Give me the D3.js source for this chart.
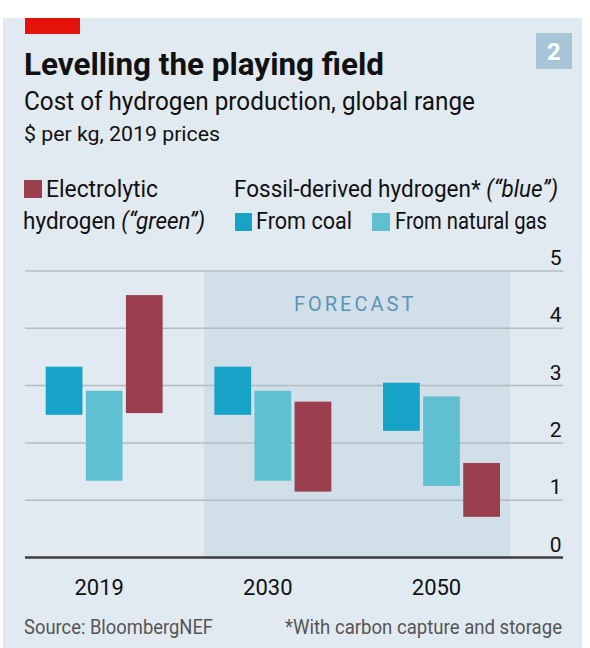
<!DOCTYPE html>
<html>
<head>
<meta charset="utf-8">
<script src="https://cdn.jsdelivr.net/npm/d3@7"></script>
<style>
  html, body { margin: 0; padding: 0; background: #fff; }
  svg { display: block; }
  text { font-family: Roboto, "Open Sans", sans-serif; fill: #111; }
</style>
</head>
<body>
<div id="chart"></div>
<script>
// cost ranges, $ per kg
const years = ["2019", "2030", "2050"];
const seriesKeys = ["coal", "gas", "green"];
const coalLow = [2.49, 2.49, 2.21];
const coalHigh = [3.33, 3.33, 3.05];
const gasLow = [1.34, 1.34, 1.25];
const gasHigh = [2.91, 2.91, 2.81];
const greenLow = [2.52, 1.15, 0.71];
const greenHigh = [4.58, 2.72, 1.65];
const yTicks = [0, 1, 2, 3, 4, 5];

const colors = { coal: "#17a2c7", gas: "#5fc0d1", green: "#9b3f4f" };

const width = 590, height = 648;

const svg = d3.select("#chart").append("svg")
    .attr("width", width)
    .attr("height", height);

// panel
svg.append("rect")
    .attr("x", 3).attr("y", 18)
    .attr("width", 579).attr("height", height - 18)
    .attr("fill", "#e2eaf1");

svg.append("rect")
    .attr("x", 25).attr("y", 18)
    .attr("width", 55).attr("height", 16)
    .attr("fill", "#e3120b");

// chart number box
svg.append("rect")
    .attr("x", 536).attr("y", 33)
    .attr("width", 36).attr("height", 36)
    .attr("fill", "#a8c5d8");
svg.append("text")
    .attr("x", 554).attr("y", 60)
    .attr("text-anchor", "middle")
    .style("font-size", "24px")
    .style("font-weight", "bold")
    .style("fill", "#fff")
    .text("2");

// titles
svg.append("text")
    .attr("x", 24).attr("y", 75)
    .attr("textLength", 360).attr("lengthAdjust", "spacingAndGlyphs")
    .style("font-size", "31px").style("font-weight", "bold")
    .text("Levelling the playing field");
svg.append("text")
    .attr("x", 24).attr("y", 110)
    .attr("textLength", 451).attr("lengthAdjust", "spacingAndGlyphs")
    .style("font-size", "25px")
    .text("Cost of hydrogen production, global range");
svg.append("text")
    .attr("x", 24).attr("y", 141)
    .attr("textLength", 196).attr("lengthAdjust", "spacingAndGlyphs")
    .style("font-size", "21px")
    .text("$ per kg, 2019 prices");

// legend
const legend = svg.append("g");
legend.append("rect").attr("x", 24).attr("y", 180).attr("width", 18).attr("height", 18).attr("fill", colors.green);
legend.append("text").attr("x", 46).attr("y", 197)
    .attr("textLength", 112).attr("lengthAdjust", "spacingAndGlyphs")
    .style("font-size", "23px").text("Electrolytic");
const l2 = legend.append("text").attr("x", 23).attr("y", 229)
    .attr("textLength", 182).attr("lengthAdjust", "spacingAndGlyphs")
    .style("font-size", "23px");
l2.append("tspan").text("hydrogen ");
l2.append("tspan").style("font-style", "italic").text("(\u201cgreen\u201d)");

const l3 = legend.append("text").attr("x", 234).attr("y", 197)
    .attr("textLength", 324).attr("lengthAdjust", "spacingAndGlyphs")
    .style("font-size", "23px");
l3.append("tspan").text("Fossil-derived hydrogen* ");
l3.append("tspan").style("font-style", "italic").text("(\u201cblue\u201d)");

legend.append("rect").attr("x", 235).attr("y", 213).attr("width", 17).attr("height", 18).attr("fill", colors.coal);
legend.append("text").attr("x", 256).attr("y", 229)
    .attr("textLength", 96).attr("lengthAdjust", "spacingAndGlyphs")
    .style("font-size", "23px").text("From coal");
legend.append("rect").attr("x", 372).attr("y", 213).attr("width", 18).attr("height", 18).attr("fill", colors.gas);
legend.append("text").attr("x", 395).attr("y", 229)
    .attr("textLength", 152).attr("lengthAdjust", "spacingAndGlyphs")
    .style("font-size", "23px").text("From natural gas");

// scales
const plotLeft = 25, plotRight = 563;
const x = d3.scaleBand().domain(years).range([45.7, 500]).paddingInner(0.3065).paddingOuter(0);
const xs = d3.scaleBand().domain(seriesKeys).range([0, x.bandwidth()]).paddingInner(0.083);
const y = d3.scaleLinear().domain([0, 5]).range([557.5, 271]);

// forecast shading
const fx0 = x("2030") - 10, fx1 = x("2050") + x.bandwidth() + 10;
svg.append("rect")
    .attr("x", fx0).attr("y", y(5))
    .attr("width", fx1 - fx0).attr("height", y(0) - y(5))
    .attr("fill", "#d1dfe9");

// gridlines
svg.append("g").selectAll("line")
    .data(yTicks.filter(d => d > 0))
    .join("line")
    .attr("x1", plotLeft).attr("x2", plotRight)
    .attr("y1", d => y(d)).attr("y2", d => y(d))
    .attr("stroke", "#b3bdc4").attr("stroke-width", 1.5);

svg.append("text")
    .attr("x", (fx0 + fx1) / 2 - 2).attr("y", 311)
    .attr("text-anchor", "middle")
    .style("font-size", "20px").style("letter-spacing", "3px")
    .style("fill", "#5b95b4")
    .text("FORECAST");

// y labels
svg.append("g").selectAll("text")
    .data(yTicks)
    .join("text")
    .attr("x", 561.5).attr("y", d => y(d) - 6)
    .attr("text-anchor", "end")
    .style("font-size", "21px")
    .text(d => d);

// bars
const rows = [];
years.forEach((yr, i) => {
    rows.push({ year: yr, key: "coal", lo: coalLow[i], hi: coalHigh[i] });
    rows.push({ year: yr, key: "gas", lo: gasLow[i], hi: gasHigh[i] });
    rows.push({ year: yr, key: "green", lo: greenLow[i], hi: greenHigh[i] });
});
svg.append("g").selectAll("rect")
    .data(rows)
    .join("rect")
    .attr("x", d => x(d.year) + xs(d.key))
    .attr("width", xs.bandwidth())
    .attr("y", d => y(d.hi))
    .attr("height", d => y(d.lo) - y(d.hi))
    .attr("fill", d => colors[d.key]);

// zero line
svg.append("line")
    .attr("x1", plotLeft).attr("x2", plotRight)
    .attr("y1", y(0)).attr("y2", y(0))
    .attr("stroke", "#3d3d3d").attr("stroke-width", 2.5);

// x labels
svg.append("g").selectAll("text")
    .data(years)
    .join("text")
    .attr("x", d => x(d) + x.bandwidth() / 2 - 5)
    .attr("y", 595)
    .attr("text-anchor", "middle")
    .style("font-size", "22px")
    .text(d => d);

// footer
svg.append("text")
    .attr("x", 24).attr("y", 634)
    .attr("textLength", 189).attr("lengthAdjust", "spacingAndGlyphs")
    .style("font-size", "20px").style("fill", "#555")
    .text("Source: BloombergNEF");
svg.append("text")
    .attr("x", 285).attr("y", 634)
    .attr("textLength", 277).attr("lengthAdjust", "spacingAndGlyphs")
    .style("font-size", "20px").style("fill", "#555")
    .text("*With carbon capture and storage");
</script>
</body>
</html>
